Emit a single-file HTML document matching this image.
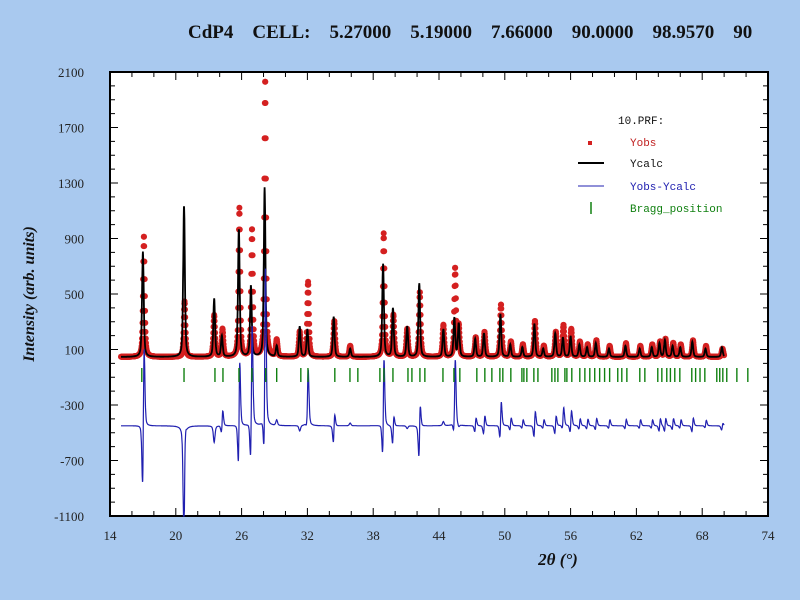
<!DOCTYPE html>
<html><head><meta charset="utf-8"><style>
body{margin:0;background:#a9c9ef;}
svg{display:block;font-family:"Liberation Serif",serif;}
</style></head><body>
<svg id="chart" width="800" height="600" viewBox="0 0 800 600">
<rect x="0" y="0" width="800" height="600" fill="#a9c9ef"/>
<text x="188" y="38" font-size="19" font-weight="bold" fill="#111" xml:space="preserve">CdP4    CELL:    5.27000    5.19000    7.66000    90.0000    98.9570    90</text>
<rect x="110" y="72" width="658" height="444" fill="#fff" stroke="#000" stroke-width="2"/>
<g id="ticks"></g>
<g id="marks"></g>
<text transform="translate(34,294) rotate(-90)" text-anchor="middle" font-size="16" font-weight="bold" font-style="italic" fill="#111">Intensity (arb. units)</text>
<text x="558" y="565" text-anchor="middle" font-size="17" font-weight="bold" font-style="italic" fill="#111">2θ (°)</text>
<g font-family="Liberation Mono, monospace" font-size="11">
<text x="618" y="124" fill="#111">10.PRF:</text>
<g><rect x="588" y="141" width="4" height="4" fill="#d42020"/><text x="630" y="146" fill="#c02020">Yobs</text></g>
<g><line x1="578" y1="163" x2="604" y2="163" stroke="#000" stroke-width="2"/><text x="630" y="167" fill="#111">Ycalc</text></g>
<g><line x1="578" y1="186" x2="604" y2="186" stroke="#2020b0" stroke-width="1"/><text x="630" y="190" fill="#2020b0">Yobs-Ycalc</text></g>
<g><line x1="591" y1="202" x2="591" y2="214" stroke="#108010" stroke-width="1.5"/><text x="630" y="212" fill="#108010">Bragg_position</text></g>
</g>
</svg>
<script>
const peakPos  =[17.0,20.75,23.5,24.2,25.75,26.85,28.1,29.2,31.3,32.0,34.4,35.9,38.9,39.8,41.1,42.2,44.4,45.4,45.8,47.3,48.1,49.6,50.5,51.6,52.7,53.5,54.6,55.3,56.0,56.8,57.5,58.3,59.5,61.0,62.3,63.4,64.1,64.6,65.3,66.0,67.1,68.3,69.8];
const calcH    =[760,1090,420,150,920,510,1220,80,220,200,290,60,670,350,220,530,200,280,240,130,170,310,90,70,240,60,170,140,150,90,70,100,60,80,60,70,100,120,80,70,110,60,70];
const obsH     =[875,400,300,200,1070,920,2000,120,180,540,260,80,890,300,200,470,230,640,220,140,180,380,110,90,260,80,180,230,200,110,90,120,80,100,80,90,110,130,100,90,120,80,60];
const obsShift =[0.09,0.05,0,0.06,0.05,0.1,0.05,0,0,0.06,0.05,0,0.06,0.04,0,0.05,0,0.07,0,0.05,0.05,0.05,0.06,0.05,0.05,0.06,0.05,0.05,0.06,0.05,0.06,0.05,0.06,0.05,0.06,0.05,0.06,0.05,0.06,0.05,0.06,0.05,0.05];
const braggPos =[16.9,20.75,23.57,24.3,25.76,26.94,28.2,29.2,31.4,32.05,34.5,35.88,36.6,38.61,38.98,39.8,41.17,41.53,42.26,42.71,44.36,45.36,45.9,47.45,48.18,48.82,49.55,49.82,50.55,51.56,51.74,52.01,52.65,53.02,54.29,54.57,54.84,55.48,55.66,56.11,56.84,57.3,57.75,58.2,58.65,59.1,59.56,60.3,60.67,61.13,62.31,62.77,63.95,64.32,64.77,65.1,65.5,65.96,67.05,67.4,67.8,68.24,69.33,69.6,69.88,70.24,71.16,72.16];
const yTickLabels=[2100,1700,1300,900,500,100,-300,-700,-1100];
const xTickLabels=[14,20,26,32,38,44,50,56,62,68,74];
const background=46, diffOffset=-450;

const X0=110,X1=768,Y0=72,Y1=516;
const xs=t=>X0+(t-14)/60*(X1-X0);
const ys=v=>Y1-(v+1100)/3200*(Y1-Y0);
const NS='http://www.w3.org/2000/svg';
function mk(tag,attrs,parent){const e=document.createElementNS(NS,tag);for(const k in attrs)e.setAttribute(k,attrs[k]);parent.appendChild(e);return e;}
const ticks=document.getElementById('ticks'), marks=document.getElementById('marks');

yTickLabels.forEach(v=>{
  const t=mk('text',{x:84,y:ys(v)+5,'text-anchor':'end','font-size':13,fill:'#222'},ticks);
  t.textContent=v;
  
  
});
for(let v=-1100;v<=2100;v+=100){
  const L=(v-100)%400===0?8:5;
  mk('line',{x1:X0,y1:ys(v),x2:X0+L,y2:ys(v),stroke:'#000','stroke-width':1},ticks);
  mk('line',{x1:X1,y1:ys(v),x2:X1-L,y2:ys(v),stroke:'#000','stroke-width':1},ticks);
}
xTickLabels.forEach(v=>{
  const t=mk('text',{x:xs(v),y:540,'text-anchor':'middle','font-size':13,fill:'#222'},ticks);
  t.textContent=v;
  
  
});
for(let v=14;v<=74;v+=2){
  const L=(v-14)%6===0?8:5;
  mk('line',{x1:xs(v),y1:Y0,x2:xs(v),y2:Y0+L,stroke:'#000'},ticks);
  mk('line',{x1:xs(v),y1:Y1,x2:xs(v),y2:Y1-L,stroke:'#000'},ticks);
}

const W=0.09;
function prof(t,hs,shift){let s=background;for(let i=0;i<peakPos.length;i++){const d=(t-peakPos[i]-(shift?shift[i]:0))/W;s+=hs[i]*(0.5/(1+d*d)+0.5*Math.exp(-0.69*d*d));}return s;}
const obsPts=[],calcPts=[],diffPts=[];
for(let t=15;t<=70.001;t+=0.02){
  const o=prof(t,obsH,obsShift),c=prof(t,calcH,null);
  obsPts.push([t,o]);calcPts.push([t,c]);diffPts.push([t,Math.max(-1100,o-c+diffOffset)]);
}
const gObs=mk('g',{fill:'#d42020'},marks);


obsPts.forEach((p,i)=>{mk('circle',{cx:xs(p[0]).toFixed(1),cy:ys(p[1]).toFixed(1),r:3},gObs);});
const calc=mk('polyline',{points:calcPts.map(p=>xs(p[0]).toFixed(1)+','+ys(p[1]).toFixed(1)).join(' '),fill:'none',stroke:'#000','stroke-width':1.8},marks);


const diff=mk('polyline',{points:diffPts.map(p=>xs(p[0]).toFixed(1)+','+ys(p[1]).toFixed(1)).join(' '),fill:'none',stroke:'#2020b0','stroke-width':1.2},marks);


const gB=mk('g',{stroke:'#108010','stroke-width':1.4},marks);


braggPos.forEach(b=>{
  const l=mk('line',{x1:xs(b),y1:368,x2:xs(b),y2:382},gB);
  
  
});
</script>
</body></html>
